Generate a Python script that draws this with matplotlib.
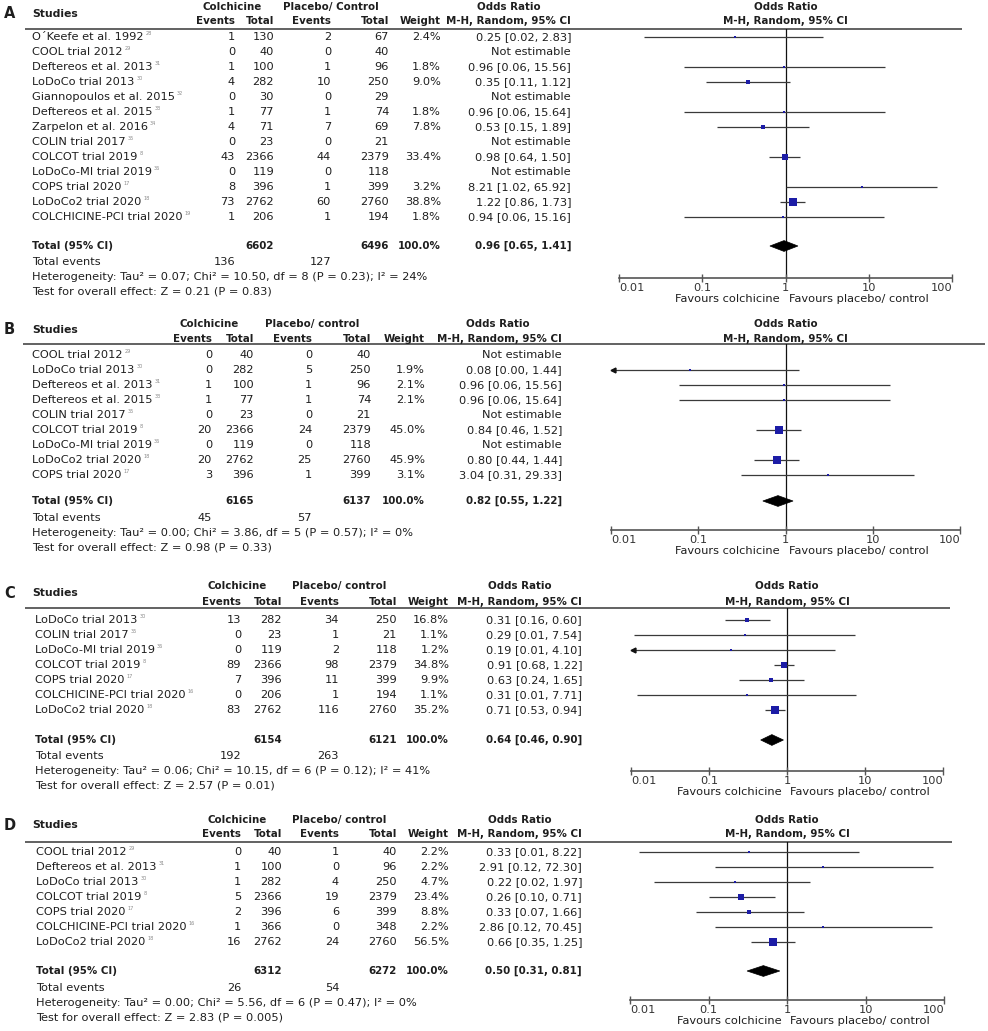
import numpy as np
import matplotlib.pyplot as plt
from matplotlib.patches import Polygon

plt.rcParams['font.family'] = ['DejaVu Sans']

W, H = 988, 1031
FS = 8.2
FSB = 7.4
TXT = '#1e1e1e'
BLUE = '#1c1ca6'
CI_COL = '#3a3a3a'

# ---------- A ----------
A_studies = ['O´Keefe et al. 1992', 'COOL trial 2012', 'Deftereos et al. 2013', 'LoDoCo trial 2013',
             'Giannopoulos et al. 2015', 'Deftereos et al. 2015', 'Zarpelon et al. 2016', 'COLIN trial 2017',
             'COLCOT trial 2019', 'LoDoCo-MI trial 2019', 'COPS trial 2020', 'LoDoCo2 trial 2020',
             'COLCHICINE-PCI trial 2020']
A_refs = ['28', '29', '31', '30', '32', '33', '34', '35', '8', '36', '17', '18', '19']
A_col_events = [1, 0, 1, 4, 0, 1, 4, 0, 43, 0, 8, 73, 1]
A_col_total = [130, 40, 100, 282, 30, 77, 71, 23, 2366, 119, 396, 2762, 206]
A_pla_events = [2, 0, 1, 10, 0, 1, 7, 0, 44, 0, 1, 60, 1]
A_pla_total = [67, 40, 96, 250, 29, 74, 69, 21, 2379, 118, 399, 2760, 194]
A_weight = [2.4, None, 1.8, 9.0, None, 1.8, 7.8, None, 33.4, None, 3.2, 38.8, 1.8]
A_or = [0.25, None, 0.96, 0.35, None, 0.96, 0.53, None, 0.98, None, 8.21, 1.22, 0.94]
A_lo = [0.02, None, 0.06, 0.11, None, 0.06, 0.15, None, 0.64, None, 1.02, 0.86, 0.06]
A_hi = [2.83, None, 15.56, 1.12, None, 15.64, 1.89, None, 1.50, None, 65.92, 1.73, 15.16]
A_total_n = [6602, 6496]
A_total_events = [136, 127]
A_pooled = [0.96, 0.65, 1.41]
A_het = 'Heterogeneity: Tau² = 0.07; Chi² = 10.50, df = 8 (P = 0.23); I² = 24%'
A_test = 'Test for overall effect: Z = 0.21 (P = 0.83)'

# ---------- B ----------
B_studies = ['COOL trial 2012', 'LoDoCo trial 2013', 'Deftereos et al. 2013', 'Deftereos et al. 2015',
             'COLIN trial 2017', 'COLCOT trial 2019', 'LoDoCo-MI trial 2019', 'LoDoCo2 trial 2020',
             'COPS trial 2020']
B_refs = ['29', '30', '31', '33', '35', '8', '36', '18', '17']
B_col_events = [0, 0, 1, 1, 0, 20, 0, 20, 3]
B_col_total = [40, 282, 100, 77, 23, 2366, 119, 2762, 396]
B_pla_events = [0, 5, 1, 1, 0, 24, 0, 25, 1]
B_pla_total = [40, 250, 96, 74, 21, 2379, 118, 2760, 399]
B_weight = [None, 1.9, 2.1, 2.1, None, 45.0, None, 45.9, 3.1]
B_or = [None, 0.08, 0.96, 0.96, None, 0.84, None, 0.80, 3.04]
B_lo = [None, 0.004, 0.06, 0.06, None, 0.46, None, 0.44, 0.31]
B_hi = [None, 1.44, 15.56, 15.64, None, 1.52, None, 1.44, 29.33]
B_total_n = [6165, 6137]
B_total_events = [45, 57]
B_pooled = [0.82, 0.55, 1.22]
B_het = 'Heterogeneity: Tau² = 0.00; Chi² = 3.86, df = 5 (P = 0.57); I² = 0%'
B_test = 'Test for overall effect: Z = 0.98 (P = 0.33)'

# ---------- C ----------
C_studies = ['LoDoCo trial 2013', 'COLIN trial 2017', 'LoDoCo-MI trial 2019', 'COLCOT trial 2019',
             'COPS trial 2020', 'COLCHICINE-PCI trial 2020', 'LoDoCo2 trial 2020']
C_refs = ['30', '35', '36', '8', '17', '16', '18']
C_col_events = [13, 0, 0, 89, 7, 0, 83]
C_col_total = [282, 23, 119, 2366, 396, 206, 2762]
C_pla_events = [34, 1, 2, 98, 11, 1, 116]
C_pla_total = [250, 21, 118, 2379, 399, 194, 2760]
C_weight = [16.8, 1.1, 1.2, 34.8, 9.9, 1.1, 35.2]
C_or = [0.31, 0.29, 0.19, 0.91, 0.63, 0.31, 0.71]
C_lo = [0.16, 0.011, 0.009, 0.68, 0.24, 0.012, 0.53]
C_hi = [0.60, 7.54, 4.10, 1.22, 1.65, 7.71, 0.94]
C_total_n = [6154, 6121]
C_total_events = [192, 263]
C_pooled = [0.64, 0.46, 0.90]
C_het = 'Heterogeneity: Tau² = 0.06; Chi² = 10.15, df = 6 (P = 0.12); I² = 41%'
C_test = 'Test for overall effect: Z = 2.57 (P = 0.01)'

# ---------- D ----------
D_studies = ['COOL trial 2012', 'Deftereos et al. 2013', 'LoDoCo trial 2013', 'COLCOT trial 2019',
             'COPS trial 2020', 'COLCHICINE-PCI trial 2020', 'LoDoCo2 trial 2020']
D_refs = ['29', '31', '30', '8', '17', '16', '18']
D_col_events = [0, 1, 1, 5, 2, 1, 16]
D_col_total = [40, 100, 282, 2366, 396, 366, 2762]
D_pla_events = [1, 0, 4, 19, 6, 0, 24]
D_pla_total = [40, 96, 250, 2379, 399, 348, 2760]
D_weight = [2.2, 2.2, 4.7, 23.4, 8.8, 2.2, 56.5]
D_or = [0.33, 2.91, 0.22, 0.26, 0.33, 2.86, 0.66]
D_lo = [0.013, 0.12, 0.02, 0.10, 0.07, 0.12, 0.35]
D_hi = [8.22, 72.30, 1.97, 0.71, 1.66, 70.45, 1.25]
D_total_n = [6312, 6272]
D_total_events = [26, 54]
D_pooled = [0.50, 0.31, 0.81]
D_het = 'Heterogeneity: Tau² = 0.00; Chi² = 5.56, df = 6 (P = 0.47); I² = 0%'
D_test = 'Test for overall effect: Z = 2.83 (P = 0.005)'

# pixel layout of each panel
LAYOUT = {
    'A': dict(h1=7, h2=21, hs=14, line=29, line_x=(25, 962), row0=37, step=15, total=246, tev=262,
              het=277, test=292, name_x=32, cols=(235, 274, 331, 389, 441, 571), colc=232, pla_x=283,
              or_c=509, fx=(619, 952), axis=278, pla_lbl='Placebo/ Control'),
    'B': dict(h1=324, h2=339, hs=330, line=344, line_x=(23, 985), row0=355, step=15, total=501, tev=518,
              het=533, test=548, name_x=32, cols=(212, 254, 312, 371, 425, 562), colc=209, pla_x=265,
              or_c=498, fx=(611, 960), axis=530, pla_lbl='Placebo/ control'),
    'C': dict(h1=586, h2=602, hs=593, line=608, line_x=(25, 950), row0=620, step=15, total=740, tev=756,
              het=771, test=786, name_x=35, cols=(241, 282, 339, 397, 449, 582), colc=237, pla_x=292,
              or_c=520, fx=(631, 943), axis=771, pla_lbl='Placebo/ control'),
    'D': dict(h1=820, h2=834, hs=825, line=842, line_x=(25, 952), row0=852, step=15, total=971, tev=988,
              het=1003, test=1018, name_x=36, cols=(241, 282, 339, 397, 449, 582), colc=237, pla_x=292,
              or_c=520, fx=(630, 944), axis=1000, pla_lbl='Placebo/ control'),
}

panels = {
    'A': (A_studies, A_refs, A_col_events, A_col_total, A_pla_events, A_pla_total, A_weight, A_or, A_lo, A_hi,
          A_total_n, A_total_events, A_pooled, A_het, A_test),
    'B': (B_studies, B_refs, B_col_events, B_col_total, B_pla_events, B_pla_total, B_weight, B_or, B_lo, B_hi,
          B_total_n, B_total_events, B_pooled, B_het, B_test),
    'C': (C_studies, C_refs, C_col_events, C_col_total, C_pla_events, C_pla_total, C_weight, C_or, C_lo, C_hi,
          C_total_n, C_total_events, C_pooled, C_het, C_test),
    'D': (D_studies, D_refs, D_col_events, D_col_total, D_pla_events, D_pla_total, D_weight, D_or, D_lo, D_hi,
          D_total_n, D_total_events, D_pooled, D_het, D_test),
}

fig = plt.figure(figsize=(W / 100, H / 100), dpi=100)
bg = fig.add_axes([0, 0, 1, 1])
bg.set_xlim(0, W)
bg.set_ylim(H, 0)
bg.axis('off')


def txt(x, y, s, ha='left', bold=False, size=None, color=TXT):
    if size is None:
        size = FSB if bold else FS
    return bg.text(x, y, s, ha=ha, va='center', fontsize=size, color=color,
                   fontweight='bold' if bold else 'normal')


def fmt_or(o, l, h):
    return f'{o:.2f} [{l:.2f}, {h:.2f}]'


for key, data in panels.items():
    (studies, refs, ce, ct, pe, pt, wt, orr, lo, hi, tot_n, tot_ev, pooled, het, test) = data
    L = LAYOUT[key]
    c_ev, c_tot, p_ev, p_tot, c_wt, c_or = L['cols']

    # header
    txt(4, L['hs'], key, bold=True, size=10.5)
    txt(32, L['hs'], 'Studies', bold=True, size=7.8)
    txt(L['colc'], L['h1'], 'Colchicine', ha='center', bold=True)
    txt(L['pla_x'], L['h1'], L['pla_lbl'], bold=True)
    txt(c_ev, L['h2'], 'Events', ha='right', bold=True)
    txt(c_tot, L['h2'], 'Total', ha='right', bold=True)
    txt(p_ev, L['h2'], 'Events', ha='right', bold=True)
    txt(p_tot, L['h2'], 'Total', ha='right', bold=True)
    txt(c_wt, L['h2'], 'Weight', ha='right', bold=True)
    txt(L['or_c'], L['h1'], 'Odds Ratio', ha='center', bold=True)
    txt(c_or, L['h2'], 'M-H, Random, 95% CI', ha='right', bold=True)
    bg.plot(L['line_x'], [L['line'], L['line']], color='#555555', lw=1.3, solid_capstyle='butt')

    # study rows
    for i, name in enumerate(studies):
        y = L['row0'] + i * L['step']
        t = txt(L['name_x'], y, name)
        bg.annotate(refs[i], xy=(1, 0.85), xycoords=t, xytext=(1.5, 0), textcoords='offset points',
                    fontsize=3.6, color='#8a8a8a', va='center', ha='left')
        txt(c_ev, y, str(ce[i]), ha='right')
        txt(c_tot, y, str(ct[i]), ha='right')
        txt(p_ev, y, str(pe[i]), ha='right')
        txt(p_tot, y, str(pt[i]), ha='right')
        if orr[i] is None:
            txt(c_or, y, 'Not estimable', ha='right')
        else:
            txt(c_wt, y, f'{wt[i]:.1f}%', ha='right')
            txt(c_or, y, fmt_or(orr[i], lo[i], hi[i]), ha='right')

    # totals
    txt(L['name_x'], L['total'], 'Total (95% CI)', bold=True)
    txt(c_tot, L['total'], str(tot_n[0]), ha='right', bold=True)
    txt(p_tot, L['total'], str(tot_n[1]), ha='right', bold=True)
    txt(c_wt, L['total'], '100.0%', ha='right', bold=True)
    txt(c_or, L['total'], fmt_or(*pooled), ha='right', bold=True)
    txt(L['name_x'], L['tev'], 'Total events')
    txt(c_ev, L['tev'], str(tot_ev[0]), ha='right')
    txt(p_ev, L['tev'], str(tot_ev[1]), ha='right')
    txt(L['name_x'], L['het'], het)
    txt(L['name_x'], L['test'], test)

    # forest plot
    x0, x1 = L['fx']
    fa = fig.add_axes([x0 / W, 1 - L['axis'] / H, (x1 - x0) / W, (L['axis'] - L['line']) / H])
    fa.set_facecolor('none')
    fa.set_xscale('log')
    fa.set_xlim(0.01, 100)
    fa.set_ylim((L['axis'] - L['row0']) / L['step'], (L['line'] - L['row0']) / L['step'])
    for s in ['top', 'left', 'right']:
        fa.spines[s].set_visible(False)
    fa.spines['bottom'].set_color('#555555')
    fa.spines['bottom'].set_linewidth(1.2)
    fa.set_yticks([])
    fa.minorticks_off()
    fa.set_xticks([0.01, 0.1, 1, 10, 100])
    fa.set_xticklabels(['0.01', '0.1', '1', '10', '100'])
    fa.tick_params(axis='x', direction='inout', length=6, width=1.0, color='#555555',
                   labelsize=FS, labelcolor='#333333', pad=0.5)
    labs = fa.get_xticklabels()
    labs[0].set_ha('left')
    labs[-1].set_ha('right')
    fa.axvline(1, color='#111111', lw=0.9, zorder=1)

    for i in range(len(studies)):
        if orr[i] is None:
            continue
        left = max(lo[i], 0.01)
        right = min(hi[i], 100)
        fa.plot([left, right], [i, i], color=CI_COL, lw=0.9, zorder=2, solid_capstyle='butt')
        if lo[i] < 0.01:
            fa.plot([0.0105], [i], marker='<', ms=3.5, color='#111111', zorder=3, clip_on=False)
        side_px = max(1.8, 1.18 * np.sqrt(wt[i]))
        fa.scatter([orr[i]], [i], marker='s', s=(side_px * 0.72) ** 2, color=BLUE, lw=0, zorder=4)

    yt = (L['total'] - L['row0']) / L['step']
    o, l, h = pooled
    fa.add_patch(Polygon([(l, yt), (o, yt - 0.36), (h, yt), (o, yt + 0.36)], closed=True,
                         facecolor='black', edgecolor='black', lw=0.5, zorder=4))

    # forest headers and footers
    fa.annotate('Odds Ratio', xy=(1, 1), xycoords=('data', 'axes fraction'),
                xytext=(0, (L['line'] - L['h1']) * 0.72), textcoords='offset points',
                ha='center', va='center', fontsize=FSB, fontweight='bold', color=TXT)
    fa.annotate('M-H, Random, 95% CI', xy=(1, 1), xycoords=('data', 'axes fraction'),
                xytext=(0, (L['line'] - L['h2']) * 0.72), textcoords='offset points',
                ha='center', va='center', fontsize=FSB, fontweight='bold', color=TXT)
    fa.annotate('Favours colchicine', xy=(1, 0), xycoords=('data', 'axes fraction'),
                xytext=(-4, -15), textcoords='offset points', ha='right', va='center',
                fontsize=FS, color=TXT)
    fa.annotate('Favours placebo/ control', xy=(1, 0), xycoords=('data', 'axes fraction'),
                xytext=(2.5, -15), textcoords='offset points', ha='left', va='center',
                fontsize=FS, color=TXT)

fig.savefig('out.png', dpi=100)
